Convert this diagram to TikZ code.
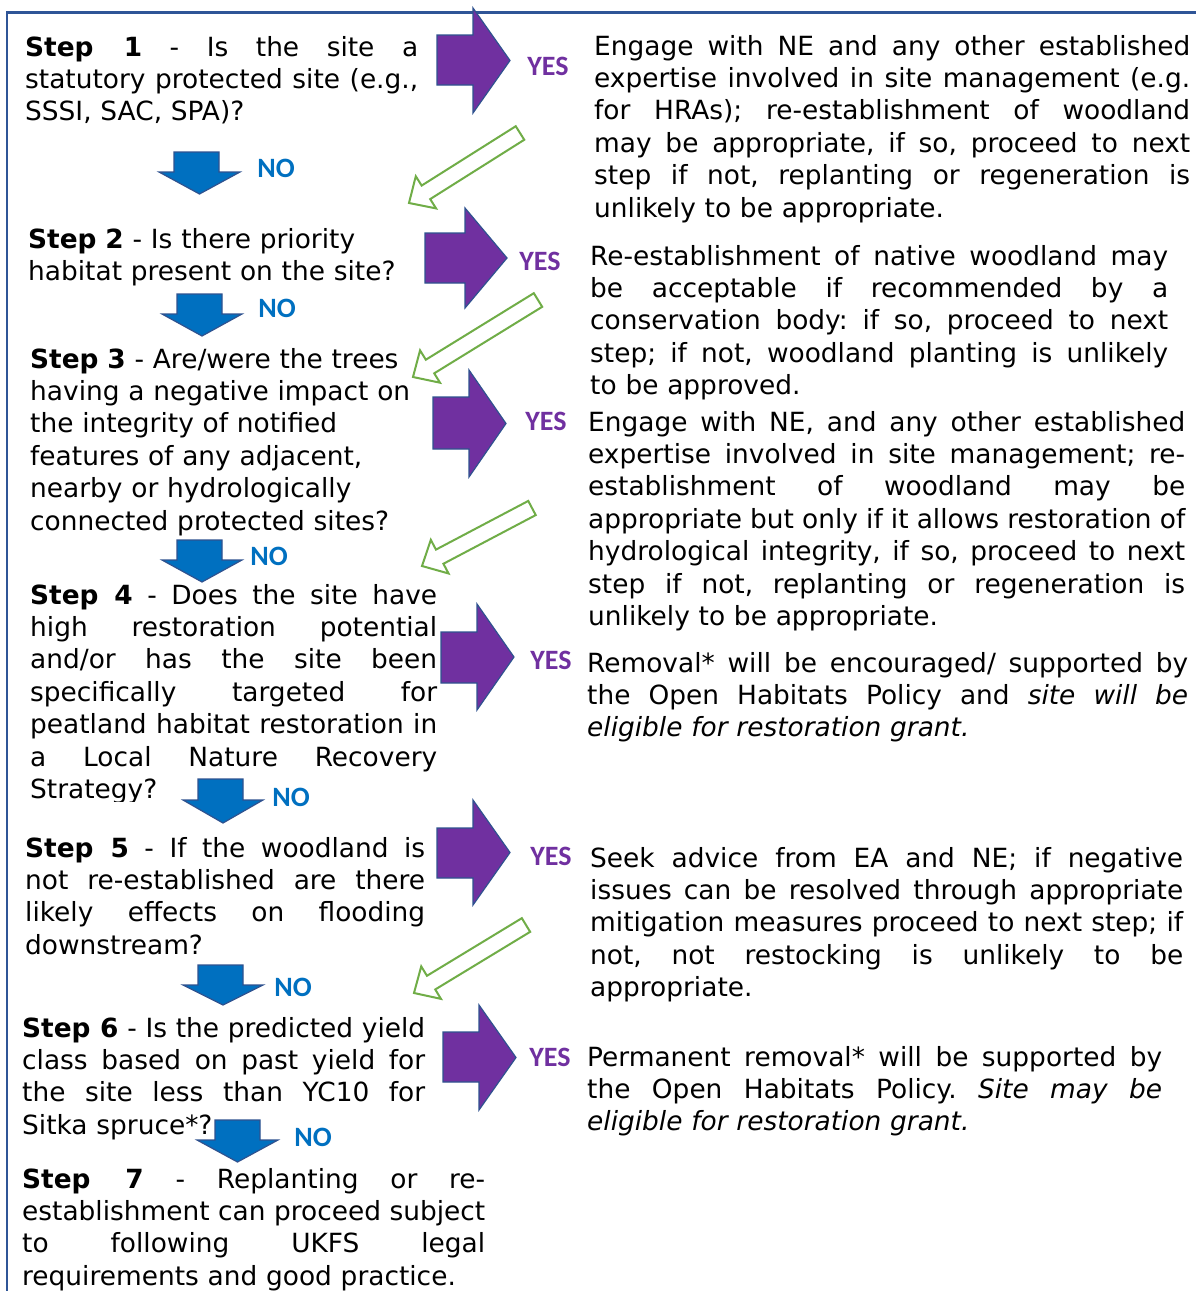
\documentclass[tikz,border=0pt]{standalone}
\usepackage{fontspec}
\setmainfont{DejaVu Sans}
\newfontfamily\yesnofont{Carlito}
\frenchspacing
\definecolor{frameblue}{HTML}{2F5597}
\definecolor{arrowedge}{HTML}{2F528F}
\definecolor{yespurple}{HTML}{7030A0}
\definecolor{noblue}{HTML}{0070C0}
\definecolor{greenedge}{HTML}{70AD47}
\newcommand{\jl}[1]{\leavevmode\hbox to \hsize{\spaceskip=0pt\xspaceskip=0pt\frenchspacing #1}}
\newcommand{\hollowarr}[4]{%
  \pgfmathsetmacro{\hadx}{#3-#1}%
  \pgfmathsetmacro{\hady}{#4-#2}%
  \pgfmathsetmacro{\haang}{atan2(-\hady,\hadx)}%
  \pgfmathsetmacro{\halen}{veclen(\hadx,\hady)}%
  \begin{scope}[shift={(#1,#2)},rotate=\haang]
    \draw[greenarr] (0,-8) -- ({\halen-20},-8) -- ({\halen-20},-19) -- (\halen,0)
      -- ({\halen-20},19) -- ({\halen-20},8) -- (0,8) -- cycle;
  \end{scope}}
\newcommand{\purplearr}[7]{% shaft-left, head-base x, tip x, shaft top, shaft bottom, head top, head bottom
  \draw[purplearrow] (#1,#4) -- (#2,#4) -- (#2,#6) -- (#3,{(#6+#7)/2}) -- (#2,#7) -- (#2,#5) -- (#1,#5) -- cycle;}
\newcommand{\bluearr}[7]{% shaft left, shaft right, head left, head right, top, head base y, tip y
  \draw[bluearrow] (#1,#5) -- (#2,#5) -- (#2,#6) -- (#4,#6) -- ({(#3+#4)/2},#7) -- (#3,#6) -- (#1,#6) -- cycle;}
\begin{document}
\begin{tikzpicture}[x=1pt,y=-1pt,
  bodytext/.style={anchor=base west, inner sep=0pt, align=left,
    font=\fontsize{26.4}{32.4}\selectfont},
  yeslabel/.style={inner sep=0pt, text=yespurple,
    font=\yesnofont\bfseries\fontsize{28}{30}\selectfont},
  nolabel/.style={inner sep=0pt, text=noblue,
    font=\yesnofont\bfseries\fontsize{28}{30}\selectfont},
  purplearrow/.style={fill=yespurple, draw=arrowedge, line width=1.2pt},
  bluearrow/.style={fill=noblue, draw=arrowedge, line width=1.2pt},
  greenarr/.style={draw=greenedge, line width=2pt, fill=white, line join=miter}]
\useasboundingbox (0,0) rectangle (1196,1291);
\fill[white] (0,0) rectangle (1196,1291);
% frame
\draw[frameblue, line width=2.5pt] (7,1300) -- (7,12.5) -- (1210,12.5);

% left column
\node[bodytext, text width=393pt] (s1) at (25,56) {%
\jl{\textbf{Step 1} - Is the site a}\\
\jl{statutory protected site (e.g.,}\\
SSSI, SAC, SPA)?};
\node[bodytext, text width=400pt] (s2) at (28,248) {%
\textbf{Step 2} - Is there priority\\
habitat present on the site?};
\node[bodytext, text width=400pt] (s3) at (30,368) {%
\textbf{Step 3} - Are/were the trees\\
having a negative impact on\\
the integrity of notified\\
features of any adjacent,\\
nearby or hydrologically\\
connected protected sites?};
\begin{scope}
\clip (0,0) rectangle (600,801);
\node[bodytext, text width=407pt] (s4) at (30,604) {%
\jl{\textbf{Step 4} - Does the site have}\\
\jl{high restoration potential}\\
\jl{and/or has the site been}\\
\jl{specifically targeted for}\\
\jl{peatland habitat restoration in}\\
\jl{a Local Nature Recovery}\\
Strategy?};
\end{scope}
\node[bodytext, text width=400pt] (s5) at (25,857) {%
\jl{\textbf{Step 5} - If the woodland is}\\
\jl{not re-established are there}\\
\jl{likely effects on flooding}\\
downstream?};
\node[bodytext, text width=403pt] (s6) at (22,1037) {%
\jl{\textbf{Step 6} - Is the predicted yield}\\
\jl{class based on past yield for}\\
\jl{the site less than YC10 for}\\
Sitka spruce*?};
\node[bodytext, text width=463pt] (s7) at (22,1188) {%
\jl{\textbf{Step 7} - Replanting or re-}\\
\jl{establishment can proceed subject}\\
\jl{to following UKFS legal}\\
requirements and good practice.};

% right column
\node[bodytext, text width=596pt] (r1) at (594,55) {%
\jl{Engage with NE and any other established}\\
\jl{expertise involved in site management (e.g.}\\
\jl{for HRAs); re-establishment of woodland}\\
\jl{may be appropriate, if so, proceed to next}\\
\jl{step if not, replanting or regeneration is}\\
unlikely to be appropriate.};
\node[bodytext, text width=578pt] (r2) at (590,265) {%
\jl{Re-establishment of native woodland may}\\
\jl{be acceptable if recommended by a}\\
\jl{conservation body: if so, proceed to next}\\
\jl{step; if not, woodland planting is unlikely}\\
to be approved.};
\node[bodytext, text width=597pt] (r3) at (588,431) {%
\jl{Engage with NE, and any other established}\\
\jl{expertise involved in site management; re-}\\
\jl{establishment of woodland may be}\\
\jl{appropriate but only if it allows restoration of}\\
\jl{hydrological integrity, if so, proceed to next}\\
\jl{step if not, replanting or regeneration is}\\
unlikely to be appropriate.};
\node[bodytext, text width=601pt] (r4) at (587,672) {%
\jl{Removal* will be encouraged/ supported by}\\
\jl{the Open Habitats Policy and \textit{site will be}}\\
\textit{eligible for restoration grant.}};
\node[bodytext, text width=593pt] (r5) at (590,867) {%
\jl{Seek advice from EA and NE; if negative}\\
\jl{issues can be resolved through appropriate}\\
\jl{mitigation measures proceed to next step; if}\\
\jl{not, not restocking is unlikely to be}\\
appropriate.};
\node[bodytext, text width=575pt] (r6) at (587,1066) {%
\jl{Permanent removal* will be supported by}\\
\jl{the Open Habitats Policy. \textit{Site may be}}\\
\textit{eligible for restoration grant.}};

% YES arrows
\purplearr{437}{473}{510}{35}{85}{8}{113}
\purplearr{425}{465}{507}{233}{283}{208}{308}
\purplearr{433}{469}{506}{397}{449}{370}{477}
\purplearr{441}{477}{514}{632}{683}{604}{710}
\purplearr{437}{473}{510}{828}{878}{800}{905}
\purplearr{443}{479}{516}{1032}{1082}{1005}{1110}
\node[yeslabel] (y1) at (548,66) {YES};
\node[yeslabel] (y2) at (540,261) {YES};
\node[yeslabel] (y3) at (546,421) {YES};
\node[yeslabel] (y4) at (551,660) {YES};
\node[yeslabel] (y5) at (551,856) {YES};
\node[yeslabel] (y6) at (550,1057) {YES};

% NO arrows
\bluearr{174}{219}{159}{240}{152}{172}{194}
\bluearr{177}{222}{162}{242}{294}{314}{336}
\bluearr{177}{222}{162}{242}{540}{560}{582}
\bluearr{198}{243}{183}{263}{779}{800}{823}
\bluearr{198}{243}{183}{263}{965}{985}{1005}
\bluearr{215}{260}{197}{278}{1120}{1140}{1162}
\node[nolabel] (n1) at (276,168) {NO};
\node[nolabel] (n2) at (277,308) {NO};
\node[nolabel] (n3) at (269,556) {NO};
\node[nolabel] (n4) at (291,797) {NO};
\node[nolabel] (n5) at (293,987) {NO};
\node[nolabel] (n6) at (313,1137) {NO};

% green return arrows
\hollowarr{520}{133}{409}{203}
\hollowarr{538}{300}{413}{377}
\hollowarr{532}{508}{422}{566}
\hollowarr{526}{925}{414}{993}
\end{tikzpicture}
\end{document}
